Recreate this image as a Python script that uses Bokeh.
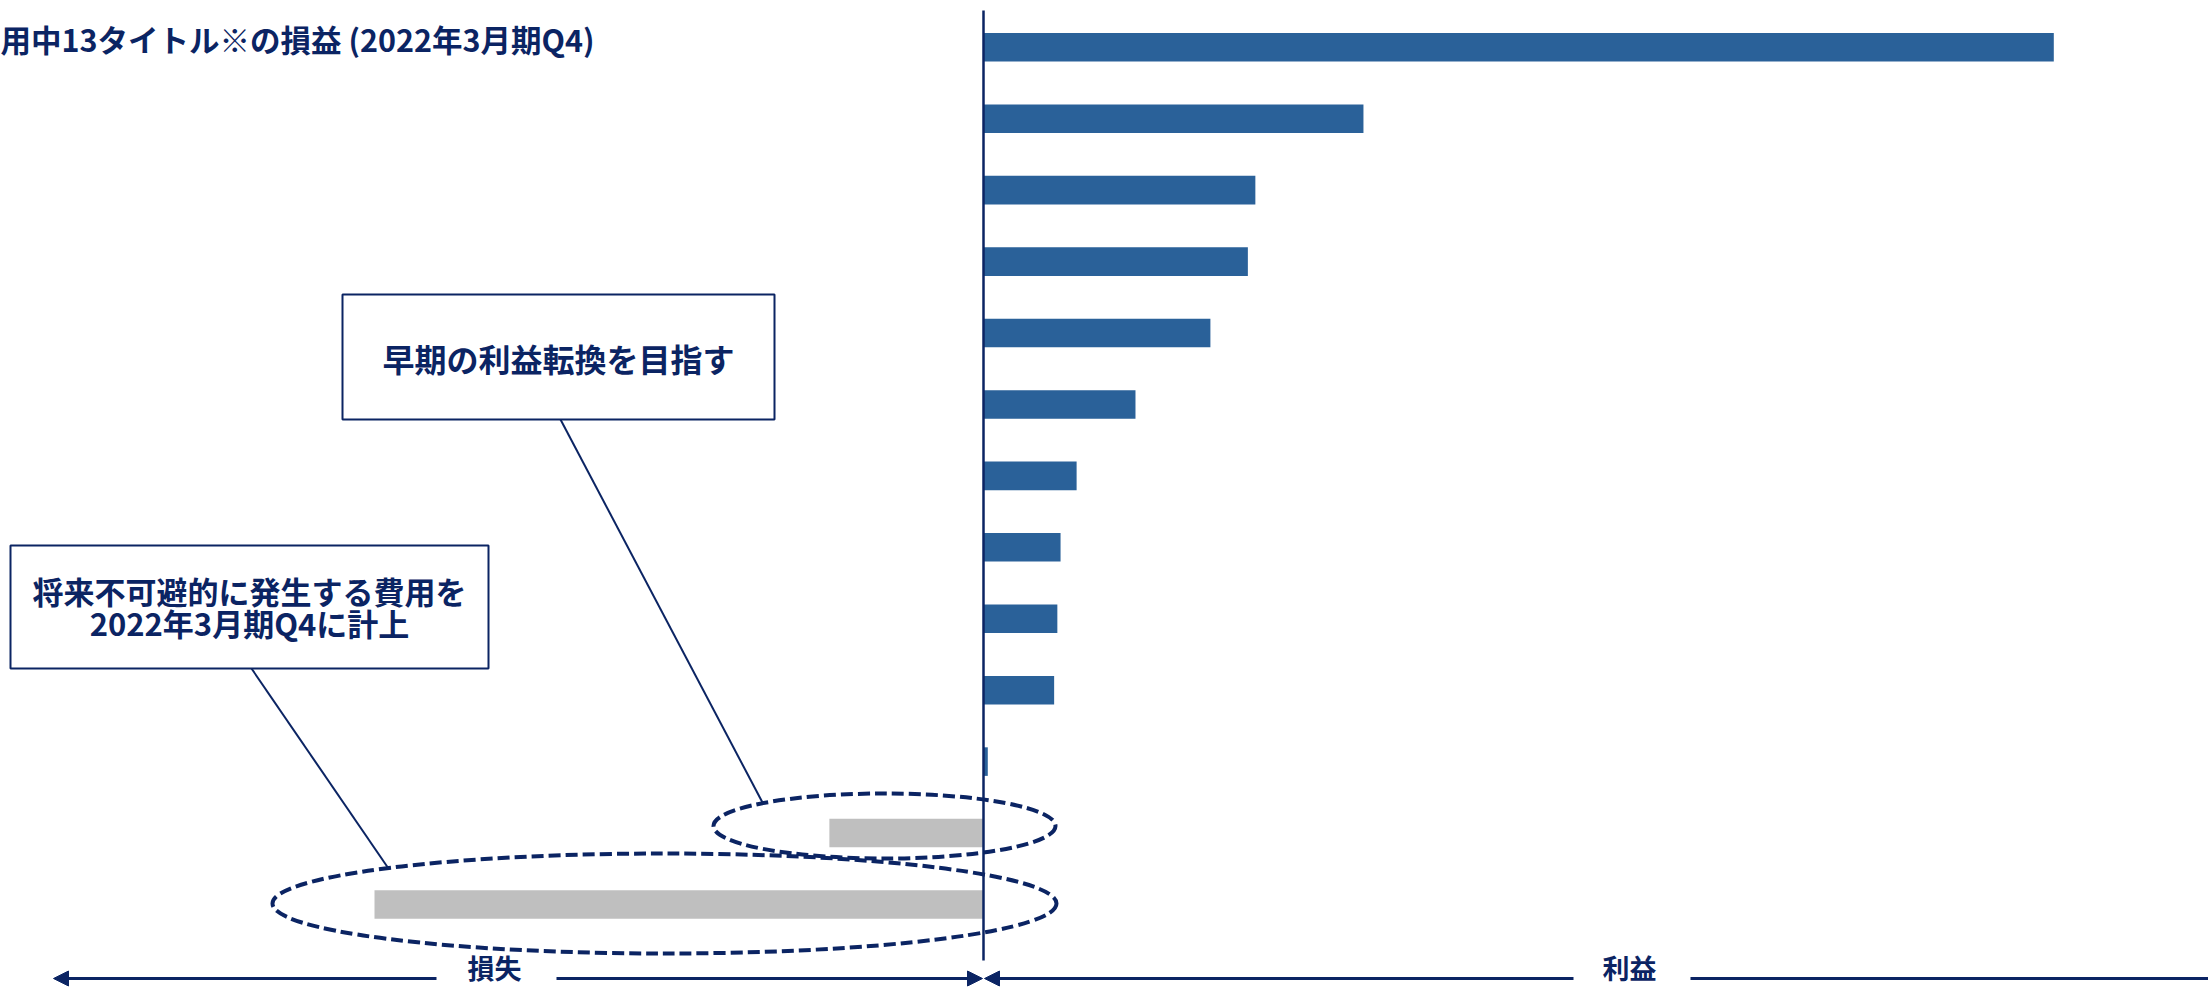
from bokeh.plotting import figure
from bokeh.models import Range1d, Arrow, NormalHead, ColumnDataSource
from bokeh.core.properties import value
from bokeh.embed import file_html
from bokeh.resources import INLINE

# ---------------- data ----------------
# 13 live titles, sorted by profit (index: largest profit = 100)
ranks = list(range(13))
profit = [100.0, 35.5, 25.4, 24.7, 21.2, 14.2, 8.7, 7.2, 6.9, 6.6, 0.4, -14.4, -56.9]
pos_color = "#2A6199"
neg_color = "#BFBFBF"

title_text = "用中13タイトル※の損益 (2022年3月期Q4)"
callout1_text = "早期の利益転換を目指す"
callout2_lines = ["将来不可避的に発生する費用を", "2022年3月期Q4に計上"]
loss_label = "損失"
gain_label = "利益"

# ---------------- layout helpers (page px -> data) ----------------
NAVY = "#0B2463"
FONT = value("Noto Sans CJK JP")
ZERO_PX = 983.0          # page x of value 0
PX_PER_UNIT = 10.703     # page px per value unit
ROW0_PX = 46.8           # page y of first bar centre
ROW_STEP = 71.43         # page px between bars
W, H = 2208, 990


def X(px):
    return (px - ZERO_PX) / PX_PER_UNIT


def Y(py):
    return (py - ROW0_PX) / ROW_STEP


p = figure(width=W, height=H,
           x_range=Range1d(X(0), X(W)),
           y_range=Range1d(Y(H), Y(0)),
           x_axis_type=None, y_axis_type=None,
           output_backend="svg", toolbar_location=None, min_border=0)
p.grid.visible = False
p.outline_line_color = None
p.background_fill_color = "white"
p.border_fill_color = "white"

src = ColumnDataSource(dict(
    y=ranks, v=profit,
    c=[pos_color if v >= 0 else neg_color for v in profit]))
p.hbar(y="y", left=0, right="v", height=0.4, fill_color="c", line_color=None, source=src)

# vertical zero line
p.segment(x0=[0], y0=[Y(10)], x1=[0], y1=[Y(960)], line_color=NAVY, line_width=2.5)

# dashed ellipses around the loss-making titles
p.ellipse(x=[X(884)], y=[Y(825.5)], width=[342], height=[65],
          width_units="screen", height_units="screen",
          fill_color=None, line_color=NAVY, line_width=4, line_dash="12 5")
p.ellipse(x=[X(664)], y=[Y(903)], width=[784], height=[100],
          width_units="screen", height_units="screen",
          fill_color=None, line_color=NAVY, line_width=4, line_dash="12 5")

# connector lines
p.segment(x0=[X(560), X(251)], y0=[Y(419), Y(668)],
          x1=[X(762), X(388)], y1=[Y(802), Y(868)],
          line_color=NAVY, line_width=2)

# callout boxes
p.quad(left=[X(342), X(10)], right=[X(774), X(488)],
       top=[Y(294), Y(545)], bottom=[Y(419), Y(668)],
       fill_color="white", line_color=NAVY, line_width=2)

p.text(x=[X(558)], y=[Y(357)], text=[callout1_text],
       text_align="center", text_baseline="middle",
       text_font=FONT, text_font_style="bold", text_font_size="32px", text_color=NAVY)
p.text(x=[X(249), X(249)], y=[Y(590), Y(622)], text=callout2_lines,
       text_align="center", text_baseline="middle",
       text_font=FONT, text_font_style="bold", text_font_size="31px", text_color=NAVY)

# title
p.text(x=[X(0)], y=[Y(38)], text=[title_text],
       text_align="left", text_baseline="middle",
       text_font=FONT, text_font_style="bold", text_font_size="30.5px", text_color=NAVY)

# bottom arrows
ya = Y(978)
for xs, xe, head in [(436, 53, True), (556, 982, True), (1573, 984, True), (1690, 2208, False)]:
    kw = dict(end=NormalHead(size=15, fill_color=NAVY, line_color=NAVY)) if head else dict(end=None)
    p.add_layout(Arrow(x_start=X(xs), y_start=ya, x_end=X(xe), y_end=ya,
                       line_color=NAVY, line_width=3, **kw))

p.text(x=[X(494), X(1629)], y=[Y(967), Y(967)], text=[loss_label, gain_label],
       text_align="center", text_baseline="middle",
       text_font=FONT, text_font_style="bold", text_font_size="27px", text_color=NAVY)

open("out.html", "w").write(file_html(p, INLINE))
